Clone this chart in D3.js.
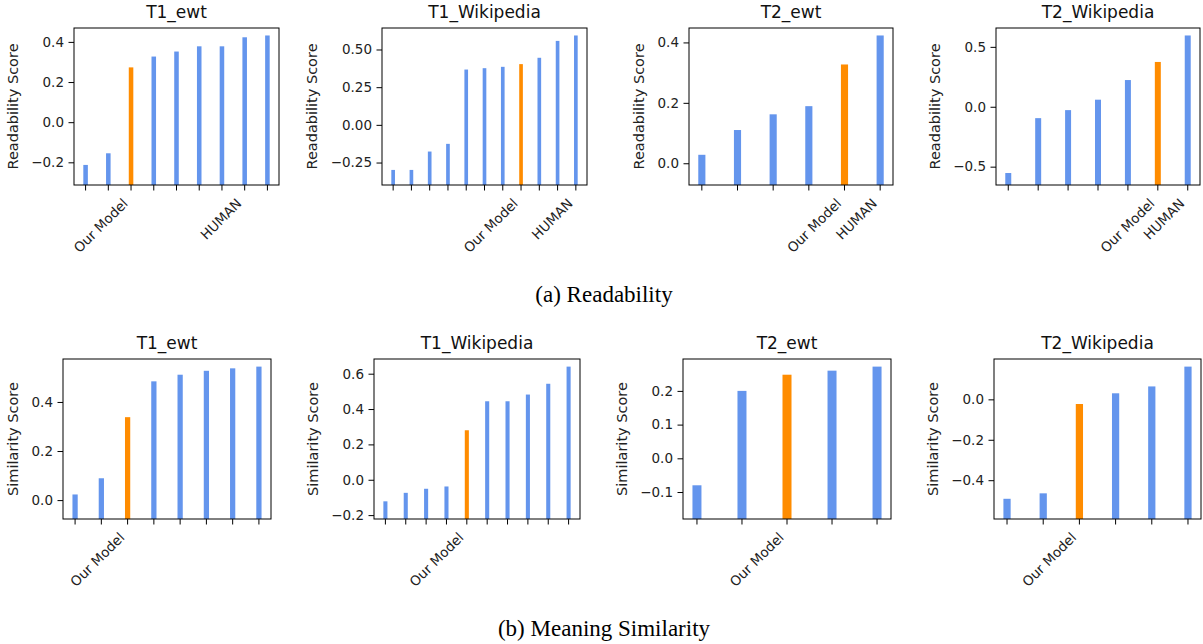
<!DOCTYPE html>
<html lang="en">
<head>
<meta charset="UTF-8">
<title>Readability and Meaning Similarity</title>
<script src="https://d3js.org/d3.v7.min.js"></script>
<style>
    body { margin: 0; background: #fff; overflow: hidden; }
    svg { display: block; }
    .tick text { font-family: "DejaVu Sans", sans-serif; fill: #222; }
</style>
</head>
<body>
<script>
    // ---- data ----
    const titles = ["T1_ewt", "T1_Wikipedia", "T2_ewt", "T2_Wikipedia"];

    const readScores = [
        [-0.213, -0.155, 0.273, 0.327, 0.352, 0.378, 0.378, 0.423, 0.432],
        [-0.299, -0.299, -0.177, -0.126, 0.367, 0.376, 0.385, 0.403, 0.445, 0.557, 0.593],
        [0.028, 0.110, 0.162, 0.189, 0.327, 0.423],
        [-0.553, -0.095, -0.028, 0.059, 0.223, 0.374, 0.595]
    ];
    const readLabels = [
        ["", "", "Our Model", "", "", "", "", "HUMAN", ""],
        ["", "", "", "", "", "", "", "Our Model", "", "", "HUMAN"],
        ["", "", "", "", "Our Model", "HUMAN"],
        ["", "", "", "", "", "Our Model", "HUMAN"]
    ];
    const readTicks = [
        [-0.2, 0.0, 0.2, 0.4],
        [-0.25, 0.0, 0.25, 0.5],
        [0.0, 0.2, 0.4],
        [-0.5, 0.0, 0.5]
    ];

    const simScores = [
        [0.023, 0.089, 0.338, 0.484, 0.511, 0.527, 0.537, 0.544],
        [-0.122, -0.074, -0.051, -0.038, 0.280, 0.444, 0.444, 0.482, 0.543, 0.640],
        [-0.080, 0.200, 0.248, 0.260, 0.272],
        [-0.492, -0.465, -0.023, 0.030, 0.064, 0.162]
    ];
    const simLabels = [
        ["", "", "Our Model", "", "", "", "", ""],
        ["", "", "", "", "Our Model", "", "", "", "", ""],
        ["", "", "Our Model", "", ""],
        ["", "", "Our Model", "", "", ""]
    ];
    const simTicks = [
        [0.0, 0.2, 0.4],
        [-0.2, 0.0, 0.2, 0.4, 0.6],
        [-0.1, 0.0, 0.1, 0.2],
        [-0.4, -0.2, 0.0]
    ];

    const captions = ["(a) Readability", "(b) Meaning Similarity"];

    // ---- layout ----
    const width = 1203, height = 644;
    const blue = "#6495ED", orange = "#FF8C00";
    const tickFont = 13.5, labelFont = 14.5, titleFont = 17;

    const rows = [
        { top: 28, bottom: 185, lefts: [74, 382, 689, 996], rights: [279, 587, 893, 1200],
          scores: readScores, labels: readLabels, ticks: readTicks, ylabel: "Readability Score" },
        { top: 359, bottom: 519, lefts: [63, 374, 683, 994], rights: [271, 580, 891, 1201],
          scores: simScores, labels: simLabels, ticks: simTicks, ylabel: "Similarity Score" }
    ];

    const svg = d3.select("body").append("svg")
        .attr("width", width)
        .attr("height", height);

    svg.append("rect").attr("width", width).attr("height", height).attr("fill", "#fff");

    function fmt(ticks) {
        // matplotlib style: as many decimals as the step needs, unicode minus
        const step = Math.abs(ticks[1] - ticks[0]);
        const dec = Math.abs(step * 10 - Math.round(step * 10)) < 1e-6 ? 1 : 2;
        return v => d3.format(`.${dec}f`)(v).replace("-", "\u2212");
    }

    rows.forEach(row => {
        row.scores.forEach((vals, p) => {
            const left = row.lefts[p], right = row.rights[p];
            const n = vals.length;
            const bw = 0.2;

            // x: bars of width 0.2 at integer positions, 5% margins
            const span = (n - 1) + bw;
            const x = d3.scaleLinear()
                .domain([-bw / 2 - 0.05 * span, n - 1 + bw / 2 + 0.05 * span])
                .range([left, right]);

            // y: bars start at min - 0.1 (sticky), 5% margin on top
            const base = d3.min(vals) - 0.1;
            const top = d3.max(vals);
            const y = d3.scaleLinear()
                .domain([base, top + 0.05 * (top - base)])
                .range([row.bottom, row.top]);

            const g = svg.append("g");

            g.selectAll("rect.bar")
                .data(vals)
                .enter().append("rect")
                .attr("class", "bar")
                .attr("x", (d, i) => x(i - bw / 2))
                .attr("width", (d, i) => x(i + bw / 2) - x(i - bw / 2))
                .attr("y", d => y(d))
                .attr("height", d => y(base) - y(d))
                .attr("fill", (d, i) => row.labels[p][i] === "Our Model" ? orange : blue);

            // y axis
            const yAxis = g.append("g")
                .attr("transform", `translate(${left},0)`)
                .call(d3.axisLeft(y)
                    .tickValues(row.ticks[p])
                    .tickFormat(fmt(row.ticks[p]))
                    .tickSize(5.5)
                    .tickPadding(4.5));
            yAxis.select(".domain").remove();
            yAxis.selectAll(".tick line").attr("stroke", "#000").attr("stroke-width", 1);
            yAxis.selectAll(".tick text").attr("font-size", tickFont);

            // x ticks
            const xt = g.append("g").selectAll("g")
                .data(vals)
                .enter().append("g")
                .attr("transform", (d, i) => `translate(${x(i)},${row.bottom})`);
            xt.append("line")
                .attr("y2", 5.5)
                .attr("stroke", "#000");
            xt.append("text")
                .attr("text-anchor", "end")
                .attr("font-family", "DejaVu Sans, sans-serif")
                .attr("font-size", tickFont)
                .attr("fill", "#222")
                .attr("transform", `translate(${-0.17 * tickFont},${10.5 + 0.66 * tickFont}) rotate(-45)`)
                .text((d, i) => row.labels[p][i]);

            // frame
            g.append("rect")
                .attr("x", left)
                .attr("y", row.top)
                .attr("width", right - left)
                .attr("height", row.bottom - row.top)
                .attr("fill", "none")
                .attr("stroke", "#000")
                .attr("stroke-width", 1);

            // title
            g.append("text")
                .attr("x", (left + right) / 2)
                .attr("y", row.top - 10)
                .attr("text-anchor", "middle")
                .attr("font-family", "DejaVu Sans, sans-serif")
                .attr("font-size", titleFont)
                .attr("fill", "#111")
                .text(titles[p]);

            // y label, placed left of the tick labels
            const bb = yAxis.node().getBBox();
            g.append("text")
                .attr("transform", `translate(${left + bb.x - 13.5},${(row.top + row.bottom) / 2}) rotate(-90)`)
                .attr("text-anchor", "middle")
                .attr("font-family", "DejaVu Sans, sans-serif")
                .attr("font-size", labelFont)
                .attr("fill", "#222")
                .text(row.ylabel);
        });
    });

    // captions
    svg.selectAll("text.caption")
        .data(captions)
        .enter().append("text")
        .attr("class", "caption")
        .attr("x", 604)
        .attr("y", (d, i) => i === 0 ? 302 : 636)
        .attr("text-anchor", "middle")
        .attr("font-family", "Liberation Serif, serif")
        .attr("font-size", 23)
        .attr("fill", "#000")
        .text(d => d);
</script>
</body>
</html>
